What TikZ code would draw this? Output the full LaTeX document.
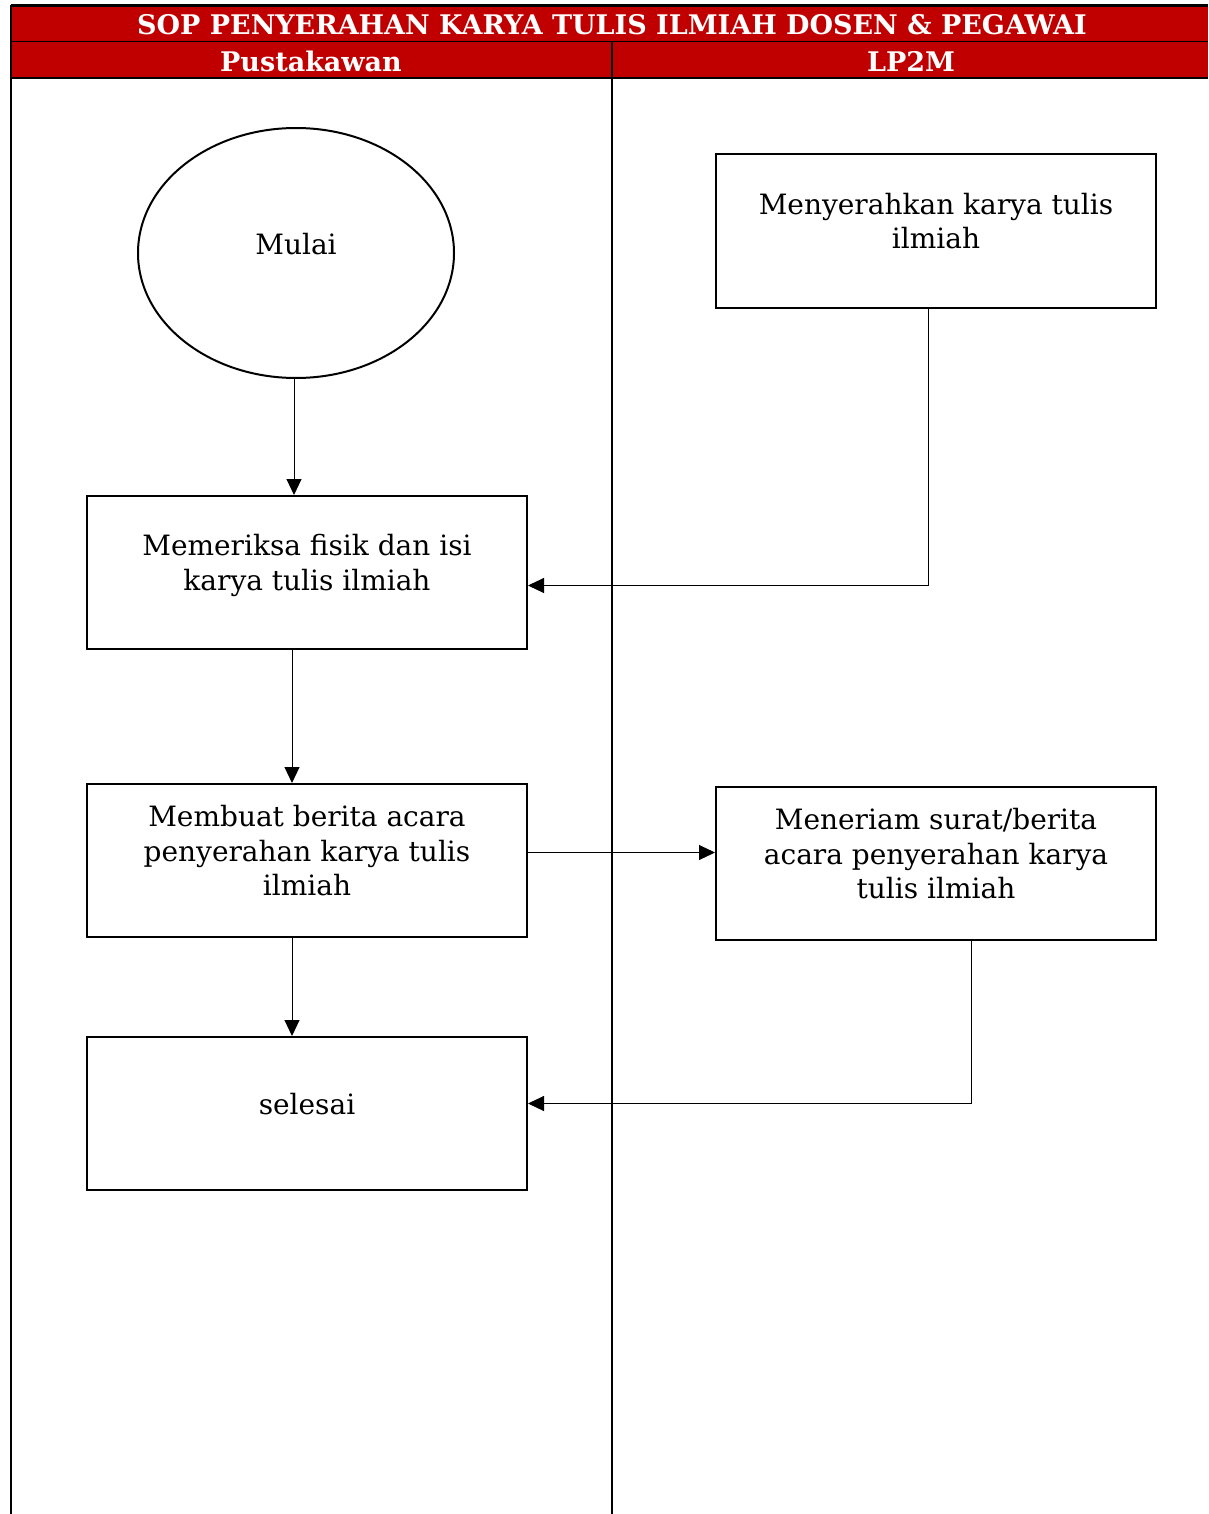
\documentclass[tikz,border=0pt]{standalone}
\usepackage{fontspec}
\setmainfont{DejaVu Serif}
\usetikzlibrary{arrows.meta, shapes.geometric}
\definecolor{sopred}{RGB}{192,0,0}
\tikzset{
		lane title/.style = {text=white, font=\fontsize{27}{30}\selectfont\bfseries},
		procbox/.style    = {draw, line width=2pt, minimum width=440pt, minimum height=153pt,
		                     align=center, text depth=20pt, font=\fontsize{28}{34.5}\selectfont},
		startnode/.style  = {draw, ellipse, line width=2pt, minimum width=316pt, minimum height=250pt,
		                     text depth=18pt, font=\fontsize{28}{34.5}\selectfont}
	}
\begin{document}
\begin{tikzpicture}[x=1pt, y=-1pt, >={Triangle[length=16pt,width=15pt]}, line width=1pt]
				\useasboundingbox (0,0) rectangle (1208,1514);
				% kepala tabel
				\fill[sopred] (11,6) rectangle (1208,78);
				\draw[line width=3pt] (11,6) -- (1208,6);
				\draw (11,42) -- (1208,42);
				\draw[line width=2pt] (11,78) -- (1208,78);
				\draw[line width=2pt] (11,5) -- (11,1514);
				\draw[line width=2pt] (612,42) -- (612,1514);
				\node[lane title] (judul)      at (612,25) {SOP PENYERAHAN KARYA TULIS ILMIAH DOSEN \& PEGAWAI};
				\node[lane title] (pustakawan) at (311,61) {Pustakawan};
				\node[lane title] (lppm)       at (911,61) {LP2M};

				% langkah
				\node[startnode] (mulai)     at (296,253)   {Mulai};
				\node[procbox]   (serahkan)  at (936,231)   {Menyerahkan karya tulis\\ilmiah};
				\node[procbox]   (periksa)   at (307,572.5) {Memeriksa fisik dan isi\\karya tulis ilmiah};
				\node[procbox]   (berita)    at (307,860.5) {Membuat berita acara\\penyerahan karya tulis\\ilmiah};
				\node[procbox]   (terima)    at (936,863.5) {Meneriam surat/berita\\acara penyerahan karya\\tulis ilmiah};
				\node[procbox]   (selesai)   at (307,1113.5) {selesai};

				% panah
				\draw[->] ([xshift=-2pt]mulai.south) -- ([xshift=-2pt]mulai.south |- periksa.north);
				\draw[->] ([xshift=-8pt]serahkan.south) |- ([yshift=-13pt]periksa.east);
				\draw[->] ([xshift=-15pt]periksa.south) -- ([xshift=-15pt]berita.north);
				\draw[->] ([yshift=8pt]berita.east) -- ([yshift=8pt]berita.east -| terima.west);
				\draw[->] ([xshift=-15pt]berita.south) -- ([xshift=-15pt]selesai.north);
				\draw[->] ([xshift=35pt]terima.south) |- ([yshift=10pt]selesai.east);
			\end{tikzpicture}
\end{document}
